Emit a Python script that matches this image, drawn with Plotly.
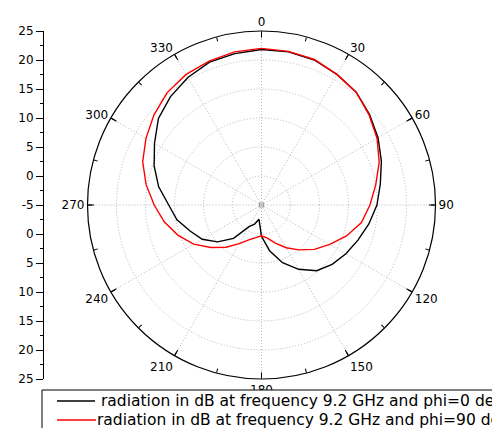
import plotly.graph_objects as go
import numpy as np

# ---------------- data ----------------
angles_deg = list(range(0, 360, 10))
phi0_db = [21.8, 21.8, 21.6, 21.0, 20.4, 19.3, 18.2, 17.0, 15.8, 14.9,
           13.8, 12.7, 11.8, 10.9, 9.8, 7.8, 5.6, 3.0, 0.4, -2.5,
           -1.5, -0.7, 2.5, 4.9, 6.8, 8.1, 9.8, 11.0, 13.0, 14.7,
           16.3, 18.2, 19.4, 20.4, 21.2, 21.5]
phi90_db = [22.0, 21.9, 21.7, 21.0, 20.4, 19.2, 18.0, 16.6, 15.0, 13.7,
            12.5, 10.6, 8.6, 6.9, 5.1, 3.5, 2.0, 0.8, 0.3, 0.7,
            1.4, 2.7, 4.5, 6.4, 8.5, 10.3, 12.0, 13.5, 15.2, 16.8,
            18.0, 19.2, 20.3, 21.0, 21.4, 21.8]
series_names = ["radiation in dB at frequency 9.2 GHz and phi=0 deg",
                "radiation in dB at frequency 9.2 GHz and phi=90 deg"]
series_colors = ["black", "red"]
r_min, r_max = -5, 25
angle_ticks = list(range(0, 360, 30))
left_tickvals = list(range(-30, 31, 5))
left_ticktext = [str(abs(v) - 5) for v in left_tickvals]

# ---------------- geometry ----------------
W, H = 492, 428
cx, cy, R = 261.5, 205.0, 174.0
dom_x = [(cx - R) / W, (cx + R) / W]
dom_y = [1 - (cy + R) / H, 1 - (cy - R) / H]
FONT = "DejaVu Sans"

fig = go.Figure()

for vals, name, col in zip([phi0_db, phi90_db], series_names, series_colors):
    fig.add_trace(go.Scatterpolar(
        r=vals + [vals[0]], theta=angles_deg + [angles_deg[0]],
        mode="lines", name=name, line=dict(color=col, width=1.4),
        showlegend=False, subplot="polar"))

# centre marker
fig.add_trace(go.Scatterpolar(r=[r_min], theta=[0], mode="markers",
                              marker=dict(symbol="square-open", size=4, color="#999999",
                                          line=dict(width=1)),
                              showlegend=False, subplot="polar"))
# minor-tick helper subplot
fig.add_trace(go.Scatterpolar(r=[r_min], theta=[0], mode="markers",
                              marker=dict(opacity=0), showlegend=False,
                              hoverinfo="skip", subplot="polar2"))
# left axis helper trace
fig.add_trace(go.Scatter(x=[0.5], y=[0], mode="markers", marker=dict(opacity=0),
                         showlegend=False, hoverinfo="skip"))

grid = dict(gridcolor="#b5b5b5", griddash="1px,2px", gridwidth=1)

fig.update_layout(
    width=W, height=H,
    margin=dict(l=0, r=0, t=0, b=0, autoexpand=False),
    paper_bgcolor="white", plot_bgcolor="rgba(0,0,0,0)",
    showlegend=False,
    font=dict(family=FONT, size=12, color="black"),
    polar=dict(
        domain=dict(x=dom_x, y=dom_y),
        bgcolor="white",
        radialaxis=dict(range=[r_min, r_max], tickmode="linear", tick0=0, dtick=5,
                        showticklabels=False, ticks="", showline=False, **grid),
        angularaxis=dict(rotation=90, direction="clockwise",
                         tickmode="array", tickvals=angle_ticks,
                         ticktext=[str(a) for a in angle_ticks],
                         ticks="inside", ticklen=6, tickcolor="black", tickwidth=1,
                         showline=True, linecolor="black", linewidth=1.2,
                         tickfont=dict(family=FONT, size=12, color="black"),
                         **grid),
    ),
    polar2=dict(
        domain=dict(x=dom_x, y=dom_y),
        bgcolor="rgba(0,0,0,0)",
        radialaxis=dict(range=[r_min, r_max], visible=False),
        angularaxis=dict(rotation=90, direction="clockwise",
                         tickmode="linear", tick0=0, dtick=15,
                         ticks="inside", ticklen=4, tickcolor="black",
                         showticklabels=False, showgrid=False, showline=False),
    ),
    xaxis=dict(domain=[0.2, 0.8], range=[0, 1], visible=False),
    yaxis=dict(domain=dom_y, range=[-30, 30], anchor="free", position=43 / W,
               side="left", tickmode="array", tickvals=left_tickvals,
               ticktext=left_ticktext, ticks="outside", ticklen=7, tickcolor="black",
               showline=True, linecolor="black", linewidth=1,
               showgrid=False, zeroline=False,
               minor=dict(tickmode="linear", tick0=2.5, dtick=5, ticks="outside",
                          ticklen=3, tickcolor="black", showgrid=False),
               tickfont=dict(family=FONT, size=12, color="black")),
)

# ---------------- manual legend (box partly outside the picture, as in the reference) ----
def px(x):
    return x / W


def py(y):
    return 1 - y / H


fig.add_shape(type="rect", xref="paper", yref="paper",
              x0=px(42), x1=px(W + 20), y0=py(390), y1=py(H + 20),
              line=dict(color="black", width=1), fillcolor="white", layer="above")
rows = [(401, 57, 95, 99), (420, 57, 96, 95)]
for (yy, l0, l1, tx), name, col in zip(rows, series_names, series_colors):
    fig.add_shape(type="line", xref="paper", yref="paper",
                  x0=px(l0), x1=px(l1), y0=py(yy), y1=py(yy),
                  line=dict(color=col, width=1.3), layer="above")
    fig.add_annotation(x=px(tx), y=py(yy), xref="paper", yref="paper",
                       text=name, showarrow=False, xanchor="left", yanchor="middle",
                       font=dict(family=FONT, size=15.5, color="black"))

fig.write_html("out.html")
